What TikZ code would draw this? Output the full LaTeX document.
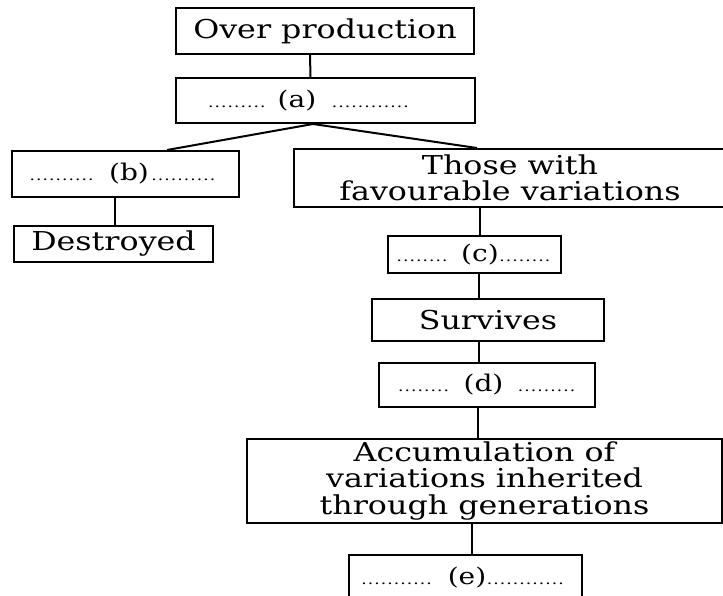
\documentclass[tikz,border=0pt]{standalone}
\usepackage{fontspec}
\setmainfont[FakeStretch=1.22]{DejaVu Serif}
\newcommand{\dotrun}[1]{\hbox to #1pt{{\fontsize{14}{14}\selectfont\leaders\hbox to 6.5pt{\hss.\hss}\hfill}}}
\newcommand{\lbl}[1]{{\fontsize{23}{23}\selectfont #1}}
\begin{document}
\begin{tikzpicture}[x=1pt,y=-1pt,
  box/.style={draw, line width=2pt, inner sep=0pt, align=center,
    font=\fontsize{26}{26.5}\selectfont},
  ln/.style={line width=2pt}]
\useasboundingbox[fill=white] (0,0) rectangle (723,596);
\node[box, minimum width=298pt, minimum height=46pt] (over) at (325,31) {Over production};
\node[box, minimum width=299pt, minimum height=45pt] (a) at (325.5,100.5)
  {\dotrun{61}\hspace{9pt}\lbl{(a)}\hspace{15pt}\dotrun{80}\hspace{32pt}};
\node[box, minimum width=227pt, minimum height=46pt] (b) at (125.5,174)
  {\dotrun{65}\hspace{15pt}\lbl{(b)}\hspace{2pt}\dotrun{71}};
\node[box, minimum width=199pt, minimum height=36pt] (destr) at (113.5,244) {Destroyed};
\node[box, minimum width=432pt, minimum height=58pt] (those) at (510,178)
  {Those with\\favourable variations};
\node[box, minimum width=173pt, minimum height=37pt] (c) at (474.5,254.5)
  {\dotrun{53}\hspace{12pt}\lbl{(c)}\dotrun{54}};
\node[box, minimum width=232pt, minimum height=42pt] (surv) at (488,320) {Survives};
\node[box, minimum width=216pt, minimum height=44pt] (d) at (487,385)
  {\dotrun{52}\hspace{14pt}\lbl{(d)}\hspace{14pt}\dotrun{59}};
\node[box, minimum width=475pt, minimum height=84pt] (acc) at (484.5,481)
  {Accumulation of\\variations inherited\\through generations};
\node[box, minimum width=233pt, minimum height=46pt] (e) at (465.5,578)
  {\dotrun{74}\hspace{13pt}\lbl{(e)}\dotrun{84}};
% connectors
\draw[ln] ([xshift=-15pt]over.south) -- ([xshift=-15pt]a.north);
\coordinate (apex) at ([xshift=-12.5pt]a.south);
\draw[ln] (apex) -- ([xshift=41.5pt]b.north);
\draw[ln] (apex) -- ([xshift=-33pt]those.north);
\draw[ln] ([xshift=-10.5pt]b.south) -- ([xshift=-10.5pt]b.south |- destr.north);
\draw[ln] ([xshift=-30pt]those.south) -- ([xshift=-30pt]those.south |- c.north);
\draw[ln] ([xshift=-9pt]surv.north |- c.south) -- ([xshift=-9pt]surv.north);
\draw[ln] ([xshift=-9pt]surv.south) -- ([xshift=-9pt]surv.south |- d.north);
\draw[ln] ([xshift=-9pt]d.south) -- ([xshift=-9pt]d.south |- acc.north);
\draw[ln] ([xshift=6.5pt]e.north |- acc.south) -- ([xshift=6.5pt]e.north);
\end{tikzpicture}
\end{document}
